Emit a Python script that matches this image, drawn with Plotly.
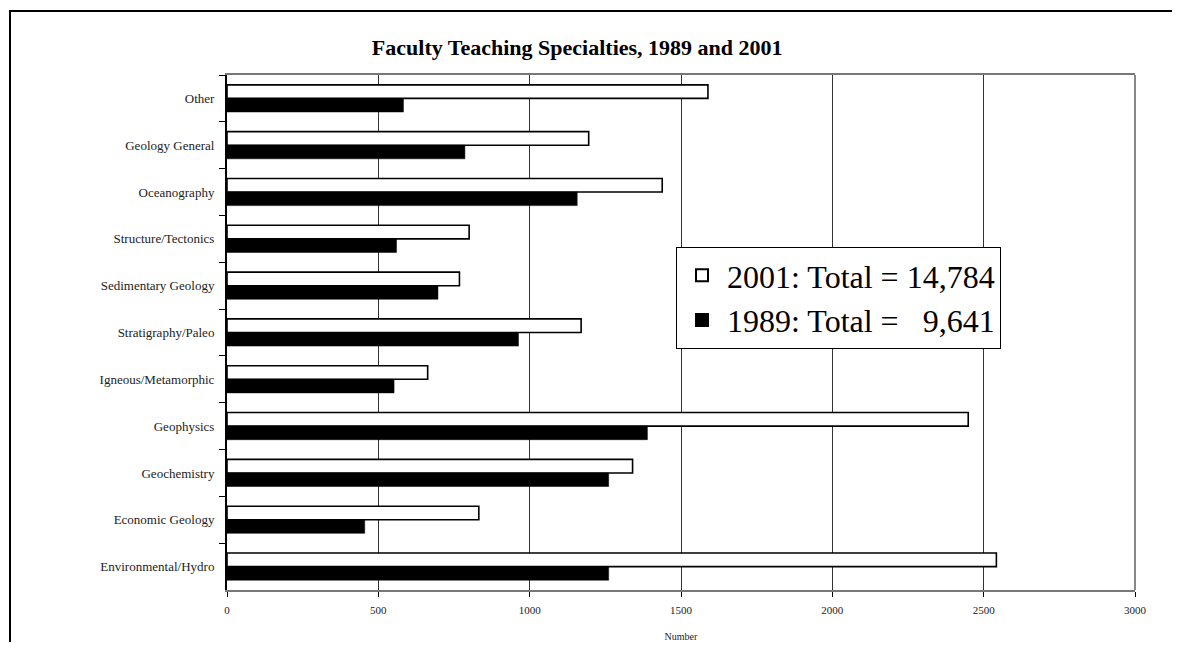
"""
Faculty teaching specialties, 1989 vs 2001 (horizontal grouped bars)
"""
import plotly.graph_objects as go

# categories, top to bottom as drawn
specialties = [
    'Other', 'Geology General', 'Oceanography', 'Structure/Tectonics',
    'Sedimentary Geology', 'Stratigraphy/Paleo', 'Igneous/Metamorphic',
    'Geophysics', 'Geochemistry', 'Economic Geology', 'Environmental/Hydro',
]
count_2001 = [1589, 1195, 1438, 800, 768, 1170, 663, 2449, 1340, 832, 2542]
count_1989 = [583, 786, 1157, 560, 697, 963, 552, 1389, 1261, 455, 1261]

name_2001 = '2001: Total = 14,784'
name_1989 = '1989: Total =   9,641'

x_ticks = [0, 500, 1000, 1500, 2000, 2500, 3000]
x_ticklabels = ['0', '500', '1000', '1500', '2000', '2500', '3000']

SERIF = 'Liberation Serif, Times New Roman, serif'

# die Seite hat 8px body-Rand -> Figur etwas kleiner
W, H = 1164, 634
PLOT_H = H - 67 - 52

fig = go.Figure()

# 2001 zuerst -> oben in der Gruppe (y-Achse umgedreht)
fig.add_trace(go.Bar(
    y=specialties, x=count_2001, orientation='h', name=name_2001,
    marker=dict(color='white', line=dict(color='black', width=1.6)),
))
fig.add_trace(go.Bar(
    y=specialties, x=count_1989, orientation='h', name=name_1989,
    marker=dict(color='black', line=dict(color='black', width=0.5)),
))

fig.update_layout(
    width=W, height=H,
    margin=dict(l=219, r=37, t=67, b=52),
    paper_bgcolor='white', plot_bgcolor='white',
    barmode='group', bargap=0.42, bargroupgap=0.0,
    title=dict(
        text='<b>Faculty Teaching Specialties, 1989 and 2001</b>',
        x=0.489, xanchor='center', y=1 - 39 / H, yanchor='middle',
        font=dict(family=SERIF, size=22, color='black'),
    ),
    font=dict(family=SERIF, color='black'),
    legend=dict(
        x=0.4945, y=1 - 172 / PLOT_H, xanchor='left', yanchor='top',
        bgcolor='white', bordercolor='black', borderwidth=1,
        font=dict(family=SERIF, size=32, color='black'),
        itemsizing='constant', itemwidth=40, tracegroupgap=0,
    ),
    showlegend=True,
)

fig.update_xaxes(
    range=[0, 3000], tickvals=x_ticks, ticktext=x_ticklabels,
    showgrid=True, gridcolor='#333', gridwidth=1,
    showline=True, linecolor='#777', linewidth=2, mirror=True,
    ticks='outside', ticklen=5, tickcolor='black',
    tickfont=dict(family=SERIF, size=11, color='#222'),
    ticklabelstandoff=4,
    title=dict(text='Number', standoff=20,
               font=dict(family=SERIF, size=10, color='#222')),
    zeroline=False, automargin=False,
)
fig.update_yaxes(
    autorange='reversed', type='category',
    showline=True, linecolor='black', linewidth=2,
    ticks='outside', ticklen=6, tickcolor='black', tickson='boundaries',
    tickfont=dict(family=SERIF, size=13, color='#222'),
    ticklabelstandoff=8,
    showgrid=False, automargin=False,
)

# rechter grauer Rand des Plotbereichs
fig.add_shape(type='line', xref='x domain', yref='y domain',
              x0=1, x1=1, y0=0, y1=1, line=dict(color='#888', width=2))
# äusserer Rahmen (oben und links sichtbar)
fig.add_shape(type='rect', xref='paper', yref='paper',
              x0=-217 / 908, x1=1.1, y0=-0.2, y1=1 + 64 / PLOT_H,
              line=dict(color='black', width=2), layer='below')

fig.write_html("out.html")
